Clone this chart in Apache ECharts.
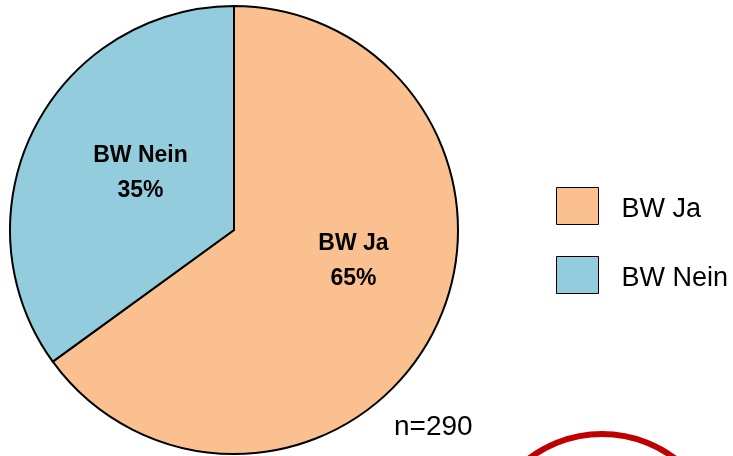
<!DOCTYPE html>
<html>
<head>
<meta charset="utf-8">
<script src="https://cdn.jsdelivr.net/npm/echarts@6/dist/echarts.min.js"></script>
<style>
  html, body { margin: 0; padding: 0; background: #fff; }
  #chart { width: 733px; height: 456px; }
</style>
</head>
<body>
<div id="chart"></div>
<script>
// Answer categories and their shares (percent)
const categories = ['BW Ja', 'BW Nein'];
const shares = [65, 35];
const colors = ['#FAC090', '#93CDDD'];
const sampleNote = 'n=290';

// per-slice nudges for the inside labels
const labelOffsets = [[17, -21], [9, -5]];

const chart = echarts.init(document.getElementById('chart'));

chart.setOption({
  animation: false,
  backgroundColor: '#ffffff',
  legend: {
    orient: 'vertical',
    left: 551,
    top: 182,
    itemWidth: 42,
    itemHeight: 37,
    itemGap: 31,
    icon: 'rect',
    itemStyle: { borderColor: '#000', borderWidth: 1 },
    formatter: name => '{t|' + name + '}',
    textStyle: {
      color: '#000',
      rich: {
        t: {
          fontFamily: 'Liberation Sans, Arial, sans-serif',
          fontSize: 27,
          color: '#000',
          padding: [8, 0, 0, 18]
        }
      }
    },
    data: categories
  },
  series: [{
    type: 'pie',
    center: [234, 230],
    radius: [0, 224],
    startAngle: 90,
    clockwise: true,
    silent: true,
    itemStyle: { borderColor: '#000', borderWidth: 2 },
    label: {
      show: true,
      position: 'inside',
      formatter: '{b}\n{d}%',
      fontFamily: 'Liberation Sans, Arial, sans-serif',
      fontWeight: 'bold',
      fontSize: 23,
      lineHeight: 35,
      color: '#000'
    },
    labelLine: { show: false },
    data: categories.map((name, i) => ({
      name,
      value: shares[i],
      itemStyle: { color: colors[i] },
      label: { offset: labelOffsets[i] }
    }))
  }],
  graphic: [
    {
      type: 'text',
      left: 394,
      top: 413,
      style: {
        text: sampleNote,
        fontFamily: 'Liberation Sans, Arial, sans-serif',
        fontSize: 28,
        fill: '#000'
      }
    },
    {
      type: 'circle',
      shape: { cx: 602, cy: 555, r: 121 },
      style: { fill: 'none', stroke: '#C00000', lineWidth: 6 }
    }
  ]
});
</script>
</body>
</html>
